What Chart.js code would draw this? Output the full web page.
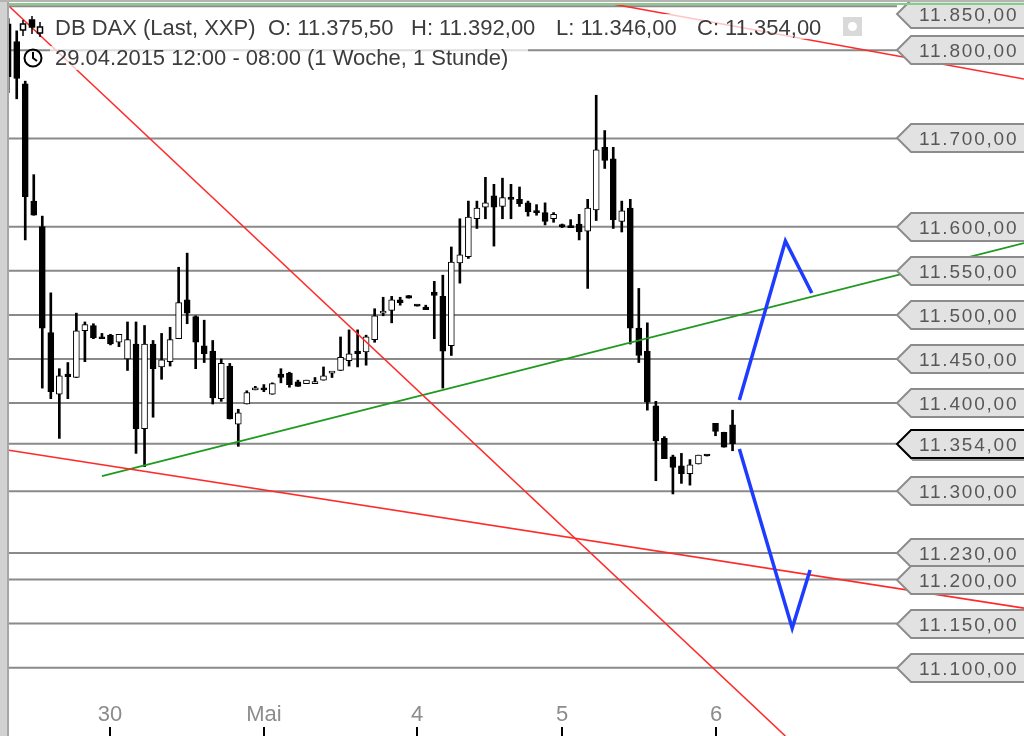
<!DOCTYPE html>
<html>
<head>
<meta charset="utf-8">
<script src="https://cdn.jsdelivr.net/npm/chart.js@4.4.1/dist/chart.umd.min.js"></script>
<style>
html, body { margin: 0; padding: 0; background: #fff; }
#wrap { width: 1024px; height: 736px; position: relative; }
</style>
</head>
<body>
<div id="wrap"><canvas id="dax"></canvas></div>
<script>
// DB DAX, 1-Stunden-Kerzen ab 29.04.2015 12:00 (Index 0)
const opens  = [11830,11810,11762,11629,11600,11480,11410,11433,11429,11482,11488,11475,11477,11469,11450,11467,11371,11467,11441,11447,
                11473,11517,11498,11465,11459,11405,11442,11376,11399,11415,11417,11410,11433,11434,11424,11422,11422,11426,11434,11437,
                11448,11459,11458,11472,11502,11505,11517,11522,11511,11509,11526,11521,11465,11559,11566,11609,11622,11635,11623,11632,
                11631,11627,11617,11616,11609,11602,11600,11603,11595,11619,11690,11677,11606,11621,11485,11459,11397,11360,11339,11329,
                11320,11331,11341,11377,11367,11375.5];
const highs  = [11836,11822,11765,11659,11612,11525,11439,11446,11502,11492,11490,11479,11478,11478,11492,11492,11488,11471,11479,11486,
                11554,11570,11499,11494,11471,11450,11445,11393,11414,11419,11421,11423,11439,11435,11426,11426,11429,11441,11435,11475,
                11483,11483,11477,11507,11520,11521,11520,11522,11511,11511,11538,11545,11577,11609,11629,11629,11656,11648,11655,11648,
                11645,11629,11625,11627,11616,11603,11608,11614,11631,11749,11709,11690,11629,11631,11530,11491,11402,11362,11341,11343,
                11336,11341,11341,11377,11367,11392];
const lows   = [11752,11745,11585,11613,11417,11405,11360,11405,11429,11447,11473,11473,11466,11464,11437,11343,11328,11384,11427,11442,
                11473,11490,11439,11446,11399,11402,11382,11351,11399,11415,11413,11410,11423,11418,11419,11422,11422,11426,11429,11437,
                11442,11441,11443,11469,11499,11491,11511,11519,11510,11506,11473,11417,11454,11536,11564,11598,11609,11578,11609,11609,
                11623,11612,11613,11602,11605,11599,11599,11585,11530,11607,11666,11598,11594,11467,11446,11392,11312,11337,11297,11309,
                11307,11331,11340,11363,11350,11346];
const closes = [11770,11768,11634,11613,11485,11413,11431,11430,11482,11489,11474,11473,11467,11478,11472,11371,11467,11439,11449,11472,
                11514,11502,11469,11456,11406,11445,11382,11389,11412,11416,11415,11422,11429,11421,11419,11426,11423,11431,11435,11452,
                11456,11456,11475,11499,11503,11517,11514,11519,11510,11506,11522,11459,11560,11568,11611,11621,11627,11622,11633,11631,
                11626,11617,11616,11606,11614,11600,11599,11594,11621,11687,11675,11608,11618,11485,11454,11401,11357,11337,11327,11320,
                11330,11341,11340,11368,11350,11354];

// Tagesbeschriftung (Kerzenindex des Tagesbeginns)
const dayLabels = ['30', 'Mai', '4', '5', '6'];
const dayStarts = [12, 30, 48, 65, 83];

// Horizontale Marken
const levels = [11850, 11800, 11700, 11600, 11550, 11500, 11450, 11400, 11354, 11300, 11230, 11200, 11150, 11100];
const lastPrice = 11354;

// Trendlinien [index, kurs]
const redSteep  = [[0.2, 11849.1], [91.2, 11022.6]];
const redUpper  = [[70.9, 11852.5], [119.2, 11767.5]];
const redLower  = [[-0.1, 11346.8], [119.2, 11167.6]];
const greenLine = [[11.0, 11317.3], [119.2, 11581.5]];
const blueUp    = [[85.8, 11403.6], [91.2, 11583.8], [94.3, 11524.8]];
const blueDown  = [[85.8, 11347.9], [92.0, 11144.9], [94.1, 11210.7]];

const X_MIN = -0.962, X_MAX = 119.2, Y_MIN = 11022.6, Y_MAX = 11857.0;
const TAG_AT = 104.3;   // Index der Etikettenspitze

const FONT = '"Liberation Sans", Arial, sans-serif';

function de(v) {
    const s = v.toFixed(2).split('.');
    return s[0].replace(/\B(?=(\d{3})+(?!\d))/g, '.') + ',' + s[1];
}

const idx = opens.map((_, i) => i);
const pts = arr => arr.map(p => ({ x: p[0], y: p[1] }));

function lineSet(arr, color, width, order) {
    return {
        type: 'line', data: pts(arr), borderColor: color, borderWidth: width,
        pointRadius: 0, fill: false, tension: 0, order: order, clip: false
    };
}

const datasets = [];
datasets.push(lineSet(blueUp, '#1e3cff', 3.5, 1));
datasets.push(lineSet(blueDown, '#1e3cff', 3.5, 1));
datasets.push(lineSet(redSteep, '#ff2a2a', 1.6, 2));
datasets.push(lineSet(redUpper, '#ff2a2a', 1.6, 2));
datasets.push(lineSet(redLower, '#ff2a2a', 1.6, 2));
datasets.push(lineSet(greenLine, '#1f9a1f', 1.8, 2));

// Kerzen: Docht + Körper als schwebende Balken
datasets.push({
    type: 'bar',
    data: idx.map(i => ({ x: i, y: [lows[i], highs[i]] })),
    backgroundColor: '#000', barThickness: 2, grouped: false, order: 4
});
datasets.push({
    type: 'bar',
    data: idx.map(i => ({ x: i, y: [opens[i], closes[i]] })),
    backgroundColor: idx.map(i => closes[i] > opens[i] ? '#fff' : '#000'),
    borderColor: '#000', borderWidth: 1, borderSkipped: false,
    barThickness: 6, minBarLength: 2, grouped: false, order: 3
});

levels.forEach(l => {
    datasets.push(lineSet([[X_MIN, l], [TAG_AT, l]], '#8a8a8a', 2, 6));
});

const overlay = {
    id: 'overlay',
    afterDatasetsDraw(chart) {
        const ctx = chart.ctx;
        const xs = chart.scales.x, ys = chart.scales.y;
        ctx.save();

        // Kopfzeile
        ctx.fillStyle = 'rgba(255,255,255,0.72)';
        ctx.fillRect(50, 14, 785, 25);
        ctx.fillRect(50, 46, 478, 24);
        ctx.fillStyle = '#3c3c3c';
        ctx.font = '22px ' + FONT;
        ctx.textBaseline = 'alphabetic';
        const n = opens.length - 1;
        const head = [[55, 'DB DAX (Last, XXP)'], [268, 'O: ' + de(opens[n])], [411, 'H: ' + de(highs[n])],
                      [556, 'L: ' + de(lows[n])], [697, 'C: ' + de(closes[n])]];
        head.forEach(h => ctx.fillText(h[1], h[0], 35));
        ctx.fillText('29.04.2015 12:00 - 08:00 (1 Woche, 1 Stunde)', 55, 65);

        // Kerzen-Symbol
        ctx.strokeStyle = '#000'; ctx.lineWidth = 1.5;
        [[23, 20, 36, 24, 30, true], [32, 16, 34, 20, 27, false], [40, 22, 37, 27, 33, true]].forEach(c => {
            ctx.beginPath(); ctx.moveTo(c[0], c[1]); ctx.lineTo(c[0], c[2]); ctx.stroke();
            ctx.fillStyle = c[5] ? '#fff' : '#000';
            ctx.fillRect(c[0] - 2.5, c[3], 5, c[4] - c[3]);
            ctx.strokeRect(c[0] - 2.5, c[3], 5, c[4] - c[3]);
        });
        // Uhr
        ctx.lineWidth = 2;
        ctx.beginPath(); ctx.arc(33, 58, 8.5, 0, Math.PI * 2); ctx.stroke();
        ctx.beginPath(); ctx.moveTo(33, 52); ctx.lineTo(33, 58); ctx.lineTo(37, 61); ctx.stroke();
        // Einstellungen
        ctx.fillStyle = '#d9d9d9';
        ctx.fillRect(843, 17, 19, 19);
        ctx.fillStyle = '#fff';
        ctx.beginPath(); ctx.arc(852.5, 26.5, 4.5, 0, Math.PI * 2); ctx.fill();

        // Kursetiketten
        const tip = xs.getPixelForValue(TAG_AT);
        ctx.font = '19px ' + FONT;
        ctx.letterSpacing = '1.8px';
        levels.forEach(l => {
            let y = Math.round(ys.getPixelForValue(l));
            y = Math.max(y, 14);
            const h = 14, body = tip + 14;
            const path = () => {
                ctx.beginPath();
                ctx.moveTo(tip, y); ctx.lineTo(body, y - h); ctx.lineTo(1030, y - h);
                ctx.lineTo(1030, y + h); ctx.lineTo(body, y + h); ctx.closePath();
            };
            if (l === lastPrice) {
                ctx.save(); ctx.translate(2, 2); path();
                ctx.strokeStyle = '#9a9a9a'; ctx.lineWidth = 2; ctx.stroke(); ctx.restore();
            }
            path();
            ctx.fillStyle = '#e2e2e2'; ctx.fill();
            ctx.strokeStyle = l === lastPrice ? '#000' : '#8c8c8c'; ctx.lineWidth = 2; ctx.stroke();
            ctx.fillStyle = '#575757';
            ctx.fillText(de(l), tip + 22, y + 7);
        });
        ctx.letterSpacing = '0px';

        // Tage
        ctx.font = '22px ' + FONT;
        ctx.textAlign = 'center';
        ctx.fillStyle = '#8c8c8c';
        ctx.strokeStyle = '#000'; ctx.lineWidth = 2;
        dayStarts.forEach((d, k) => {
            const x = Math.round(xs.getPixelForValue(d));
            ctx.fillText(dayLabels[k], x, 721);
            ctx.beginPath(); ctx.moveTo(x, 727); ctx.lineTo(x, 736); ctx.stroke();
        });

        // Rahmen
        ctx.fillStyle = '#d2d2d2'; ctx.fillRect(0, 0, 7, 736);
        ctx.fillStyle = '#a6a6a6'; ctx.fillRect(7, 0, 2, 736);
        ctx.fillStyle = '#b4b4b4'; ctx.fillRect(0, 0, 1024, 2);
        ctx.fillStyle = '#86cc86'; ctx.fillRect(9, 3, 1015, 2);
        ctx.restore();
    }
};

new Chart(document.getElementById('dax'), {
    type: 'bar',
    data: { datasets: datasets },
    options: {
        responsive: true,
        maintainAspectRatio: false,
        animation: false,
        events: [],
        layout: { padding: 0 },
        plugins: { legend: { display: false }, tooltip: { enabled: false } },
        scales: {
            x: { type: 'linear', min: X_MIN, max: X_MAX, display: false, offset: false },
            y: { type: 'linear', min: Y_MIN, max: Y_MAX, display: false }
        }
    },
    plugins: [overlay]
});
</script>
</body>
</html>
